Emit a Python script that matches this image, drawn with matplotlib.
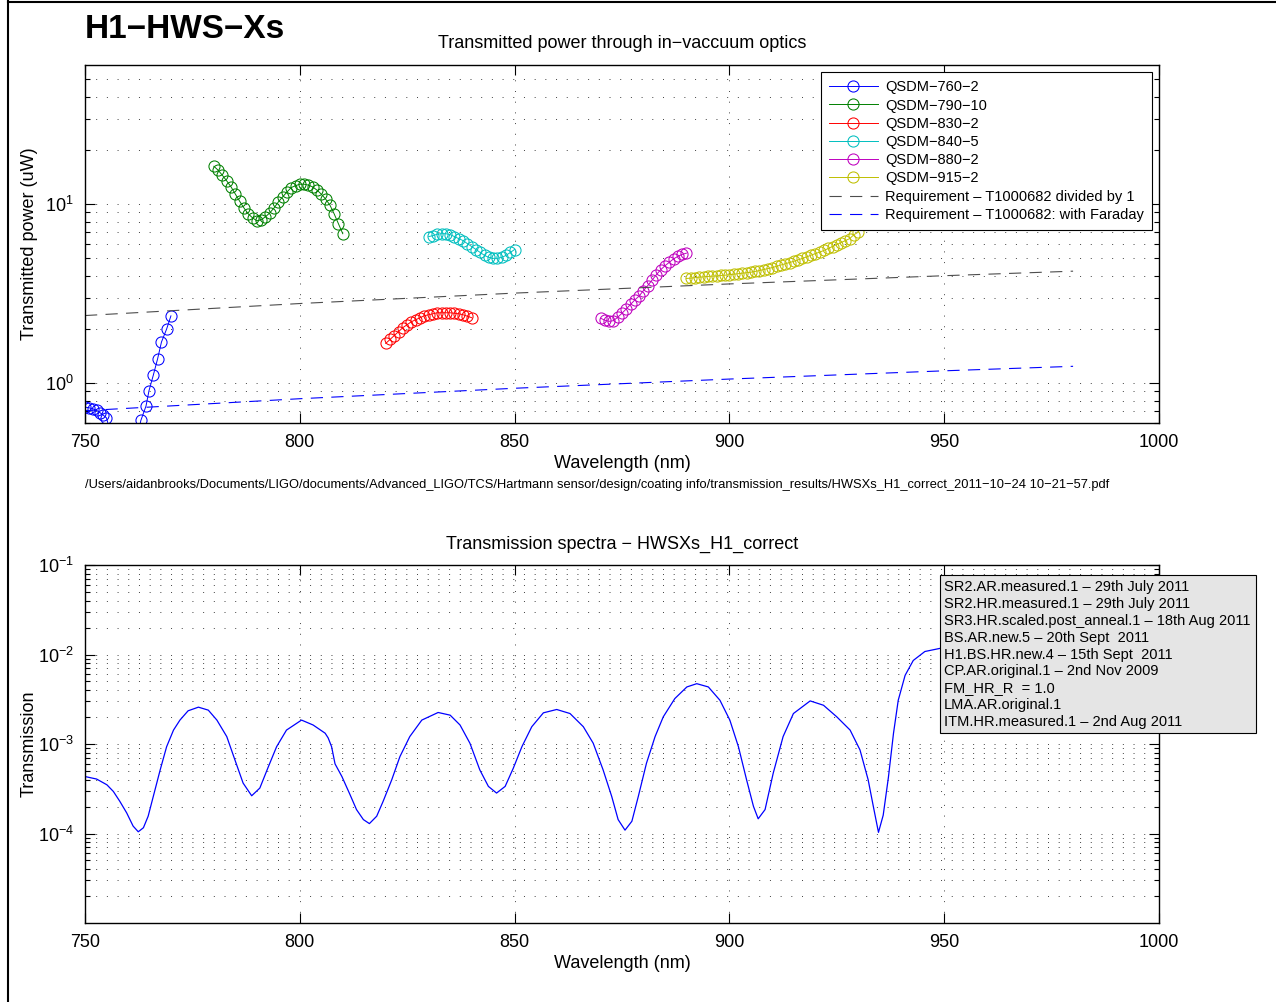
import matplotlib
matplotlib.use('Agg')
import matplotlib.pyplot as plt
from matplotlib.ticker import FixedLocator, FixedFormatter, NullFormatter
from matplotlib.patches import Rectangle
from matplotlib.lines import Line2D

plt.rcParams['font.family'] = ['Liberation Sans', 'DejaVu Sans']
plt.rcParams['mathtext.fontset'] = 'custom'
plt.rcParams['mathtext.rm'] = 'Liberation Sans'
plt.rcParams['mathtext.it'] = 'Liberation Sans:italic'
plt.rcParams['mathtext.bf'] = 'Liberation Sans:bold'

# ---------------- data: top panel (transmitted power, uW) ----------------
blue_wl = [750.0, 750.9, 751.8, 752.7, 753.5, 754.3, 755.0, 756.0, 758.0, 760.0,
           762.0, 763.0, 764.2, 764.9, 765.9, 766.9, 767.8, 769.0, 770.0]
blue_val = [0.736, 0.730, 0.721, 0.706, 0.685, 0.662, 0.641, 0.52, 0.42, 0.40,
            0.48, 0.62, 0.746, 0.91, 1.11, 1.37, 1.70, 2.01, 2.38]

green_wl = list(range(780, 811))
green_val = [16.3, 15.5, 14.5, 13.5, 12.5, 11.4, 10.4, 9.54, 8.84, 8.40, 8.09,
             8.19, 8.51, 8.95, 9.54, 10.3, 11.0, 11.7, 12.4, 12.7, 12.95,
             12.95, 12.8, 12.5, 12.0, 11.4, 10.7, 9.91, 8.84, 7.78, 6.85]

red_wl = list(range(820, 841))
red_val = [1.670, 1.757, 1.849, 1.945, 2.047, 2.127, 2.209, 2.266, 2.325, 2.385,
           2.415, 2.446, 2.477, 2.477, 2.477, 2.477, 2.461, 2.446, 2.415, 2.370, 2.325]

cyan_wl = list(range(830, 851))
cyan_val = [6.60, 6.68, 6.81, 6.85, 6.85, 6.77, 6.60, 6.43, 6.27, 6.03, 5.81,
            5.59, 5.38, 5.18, 5.05, 4.99, 4.99, 5.05, 5.18, 5.38, 5.59]

magenta_wl = list(range(870, 891))
magenta_val = [2.310, 2.252, 2.218, 2.238, 2.339, 2.461, 2.606, 2.760, 2.923, 3.075,
               3.298, 3.515, 3.770, 4.043, 4.309, 4.533, 4.739, 4.955, 5.115, 5.247, 5.335]

yellow_wl = list(range(890, 931))
yellow_val = [3.852, 3.867, 3.892, 3.916, 3.932, 3.952, 3.967, 3.981, 4.002, 4.017,
              4.043, 4.068, 4.094, 4.121, 4.147, 4.174, 4.217, 4.265, 4.320, 4.376,
              4.431, 4.505, 4.580, 4.651, 4.729, 4.801, 4.894, 4.987, 5.084, 5.195,
              5.302, 5.404, 5.521, 5.663, 5.809, 5.958, 6.112, 6.269, 6.431, 6.767, 6.985]

req_wl = [750, 800, 850, 900, 950, 980]
req_div1 = [2.39, 2.79, 3.19, 3.59, 3.99, 4.23]
req_faraday = [0.703, 0.820, 0.938, 1.056, 1.174, 1.244]

series_labels = ['QSDM\u2212760\u22122', 'QSDM\u2212790\u221210', 'QSDM\u2212830\u22122',
                 'QSDM\u2212840\u22125', 'QSDM\u2212880\u22122', 'QSDM\u2212915\u22122']
req_labels = ['Requirement \u2013 T1000682 divided by 1',
              'Requirement \u2013 T1000682: with Faraday']

# ---------------- data: bottom panel (transmission spectrum) ----------------
spec_wl = [750.0, 752.7, 755.1, 756.6, 758.1, 759.7, 761.2, 762.4, 763.6, 764.7,
           765.9, 767.5, 769.0, 770.6, 772.1, 774.0, 776.4, 778.7, 780.7, 783.0,
           784.9, 786.8, 788.8, 790.7, 792.7, 794.6, 796.9, 800.4, 803.1, 805.9,
           806.6, 807.4, 808.2, 809.8, 811.7, 813.2, 814.8, 816.2, 817.9, 819.4,
           821.4, 823.3, 825.6, 828.4, 832.2, 835.0, 837.3, 839.6, 841.9, 843.9,
           845.8, 847.8, 849.7, 851.7, 854.0, 856.7, 859.8, 862.9, 866.0, 868.3,
           870.6, 872.6, 874.1, 875.7, 877.3, 878.8, 880.7, 882.7, 884.6, 887.3,
           890.1, 892.4, 895.1, 897.8, 900.1, 902.1, 904.0, 905.6, 906.7, 908.3,
           910.2, 912.5, 914.9, 918.8, 921.9, 925.0, 928.1, 930.4, 932.3, 933.5,
           934.7, 935.8, 937.0, 938.2, 939.3, 940.9, 942.8, 945.5, 949.0, 950.0]
spec_T = [4.33e-4, 4.06e-4, 3.50e-4, 2.95e-4, 2.29e-4, 1.70e-4, 1.21e-4, 1.045e-4, 1.16e-4, 1.56e-4,
          2.60e-4, 5.14e-4, 9.33e-4, 1.43e-3, 1.85e-3, 2.35e-3, 2.58e-3, 2.39e-3, 1.85e-3, 1.21e-3,
          6.64e-4, 3.66e-4, 2.64e-4, 3.22e-4, 5.60e-4, 9.33e-4, 1.43e-3, 1.85e-3, 1.63e-3, 1.32e-3,
          1.17e-3, 9.33e-4, 6.00e-4, 4.33e-4, 2.71e-4, 1.85e-4, 1.43e-4, 1.29e-4, 1.56e-4, 2.29e-4,
          3.98e-4, 7.22e-4, 1.21e-3, 1.85e-3, 2.25e-3, 2.10e-3, 1.63e-3, 1.02e-3, 5.14e-4, 3.36e-4,
          2.83e-4, 3.36e-4, 5.37e-4, 9.33e-4, 1.56e-3, 2.23e-3, 2.43e-3, 2.19e-3, 1.56e-3, 1.02e-3,
          5.14e-4, 2.60e-4, 1.43e-4, 1.09e-4, 1.37e-4, 2.60e-4, 6.11e-4, 1.21e-3, 2.01e-3, 3.22e-3,
          4.34e-3, 4.72e-3, 4.34e-3, 3.08e-3, 1.85e-3, 9.33e-4, 3.98e-4, 2.01e-4, 1.46e-4, 1.85e-4,
          4.72e-4, 1.21e-3, 2.19e-3, 3.03e-3, 2.71e-3, 2.01e-3, 1.43e-3, 8.58e-4, 3.98e-4, 2.01e-4,
          1.03e-4, 1.60e-4, 4.19e-4, 1.32e-3, 3.08e-3, 5.85e-3, 8.58e-3, 1.08e-2, 1.17e-2, 1.20e-2]

coating_labels = ['SR2.AR.measured.1 \u2013 29th July 2011',
                  'SR2.HR.measured.1 \u2013 29th July 2011',
                  'SR3.HR.scaled.post_anneal.1 \u2013 18th Aug 2011',
                  'BS.AR.new.5 \u2013 20th Sept  2011',
                  'H1.BS.HR.new.4 \u2013 15th Sept  2011',
                  'CP.AR.original.1 \u2013 2nd Nov 2009',
                  'FM_HR_R  = 1.0',
                  'LMA.AR.original.1',
                  'ITM.HR.measured.1 \u2013 2nd Aug 2011']

x_ticks = [750, 800, 850, 900, 950, 1000]
top_yticks = [1, 10]
top_ylabels = ['$\\mathregular{10^{0}}$', '$\\mathregular{10^{1}}$']
bot_yticks = [1e-4, 1e-3, 1e-2, 1e-1]
bot_ylabels = ['$\\mathregular{10^{-4}}$', '$\\mathregular{10^{-3}}$',
               '$\\mathregular{10^{-2}}$', '$\\mathregular{10^{-1}}$']

file_path = ('/Users/aidanbrooks/Documents/LIGO/documents/Advanced_LIGO/TCS/Hartmann sensor/'
             'design/coating info/transmission_results/HWSXs_H1_correct_2011\u221210\u221224 '
             '10\u221221\u221257.pdf')

# ---------------- figure ----------------
W, H = 1276, 1002
fig = plt.figure(figsize=(W / 100, H / 100), dpi=100)


def rect(l, t, r, b):
    return [l / W, 1 - b / H, (r - l) / W, (b - t) / H]


ax1 = fig.add_axes(rect(85, 65, 1159, 423))
ax2 = fig.add_axes(rect(85, 565, 1159, 923))

grid_kw = dict(color='0.25', linewidth=0.7, linestyle=(0, (1, 10)))

colors = ['#0000ff', '#008000', '#ff0000', '#00bfbf', '#bf00bf', '#bfbf00']
xs = [blue_wl, green_wl, red_wl, cyan_wl, magenta_wl, yellow_wl]
ys = [blue_val, green_val, red_val, cyan_val, magenta_val, yellow_val]
for x, y, c, lab in zip(xs, ys, colors, series_labels):
    ax1.plot(x, y, '-', color=c, lw=0.7, marker='o', ms=8, mfc='none',
             mec=c, mew=0.75, label=lab)
ax1.plot(req_wl, req_div1, color='0.3', lw=0.8, dashes=(11, 7.5), label=req_labels[0])
ax1.plot(req_wl, req_faraday, color='#0000ff', lw=0.8, dashes=(11, 7.5), label=req_labels[1])

ax1.set_yscale('log')
ax1.set_xlim(750, 1000)
ax1.set_ylim(0.6, 60)

ax2.plot(spec_wl, spec_T, color='#0000ff', lw=0.9)
ax2.set_yscale('log')
ax2.set_xlim(750, 1000)
ax2.set_ylim(1e-5, 1e-1)

top_minor = [0.6, 0.7, 0.8, 0.9] + [k for k in range(2, 10)] + [10 * k for k in range(2, 6)]
bot_minor = [k * 10.0 ** d for d in range(-5, -1) for k in range(2, 10)]

for ax, yt, yl, ym in [(ax1, top_yticks, top_ylabels, top_minor),
                       (ax2, bot_yticks, bot_ylabels, bot_minor)]:
    ax.xaxis.set_major_locator(FixedLocator(x_ticks))
    ax.xaxis.set_major_formatter(FixedFormatter([str(v) for v in x_ticks]))
    ax.xaxis.set_minor_locator(FixedLocator([]))
    ax.yaxis.set_major_locator(FixedLocator(yt))
    ax.yaxis.set_major_formatter(FixedFormatter(yl))
    ax.yaxis.set_minor_locator(FixedLocator(ym))
    ax.yaxis.set_minor_formatter(NullFormatter())
    ax.tick_params(which='both', direction='in', top=True, right=True,
                   labelsize=13, pad=8, width=0.8)
    ax.tick_params(which='major', length=7)
    ax.tick_params(which='minor', length=3.5)
    ax.grid(True, which='major', axis='x', **grid_kw)
    ax.grid(True, which='both', axis='y', **grid_kw)
    ax.set_axisbelow(True)
    for s in ax.spines.values():
        s.set_linewidth(1.0)
    ax.set_xlabel('Wavelength (nm)', fontsize=13, labelpad=3)

ax1.set_title('Transmitted power through in\u2212vaccuum optics', fontsize=13, pad=12)
ax2.set_title('Transmission spectra \u2212 HWSXs_H1_correct', fontsize=13, pad=12)
ax1.set_ylabel('Transmitted power (uW)', fontsize=13)
ax2.set_ylabel('Transmission', fontsize=13)
ax1.yaxis.set_label_coords(-0.044, 0.5)
ax2.yaxis.set_label_coords(-0.044, 0.5)

leg = ax1.legend(loc='upper right', fontsize=10.5, frameon=True, fancybox=False,
                 edgecolor='black', framealpha=1, borderaxespad=0.5,
                 labelspacing=0.29, handlelength=3.4, handletextpad=0.45, borderpad=0.55)
leg.get_frame().set_linewidth(0.8)

# coating list box (bottom panel)
box = Rectangle((940 / W, 1 - 733 / H), 316 / W, 158 / H, transform=fig.transFigure,
                facecolor='#e5e5e5', edgecolor='black', lw=0.8, zorder=5)
fig.add_artist(box)
for i, lab in enumerate(coating_labels):
    fig.text(944 / W, 1 - (587 + 16.9 * i) / H, lab, ha='left', va='center',
             fontsize=10.5, zorder=6)

fig.text(85 / W, 1 - 30 / H, 'H1\u2212HWS\u2212Xs', fontsize=24, fontweight='bold',
         ha='left', va='center')
fig.text(85 / W, 1 - 485 / H, file_path, fontsize=9.3, ha='left', va='center')

# figure frame
fig.add_artist(Line2D([8 / W, 8 / W], [0, 1], transform=fig.transFigure, color='black', lw=1.5))
fig.add_artist(Line2D([8 / W, 1], [1 - 1.5 / H, 1 - 1.5 / H], transform=fig.transFigure,
                      color='black', lw=1.5))

fig.savefig('out.png', dpi=100)
